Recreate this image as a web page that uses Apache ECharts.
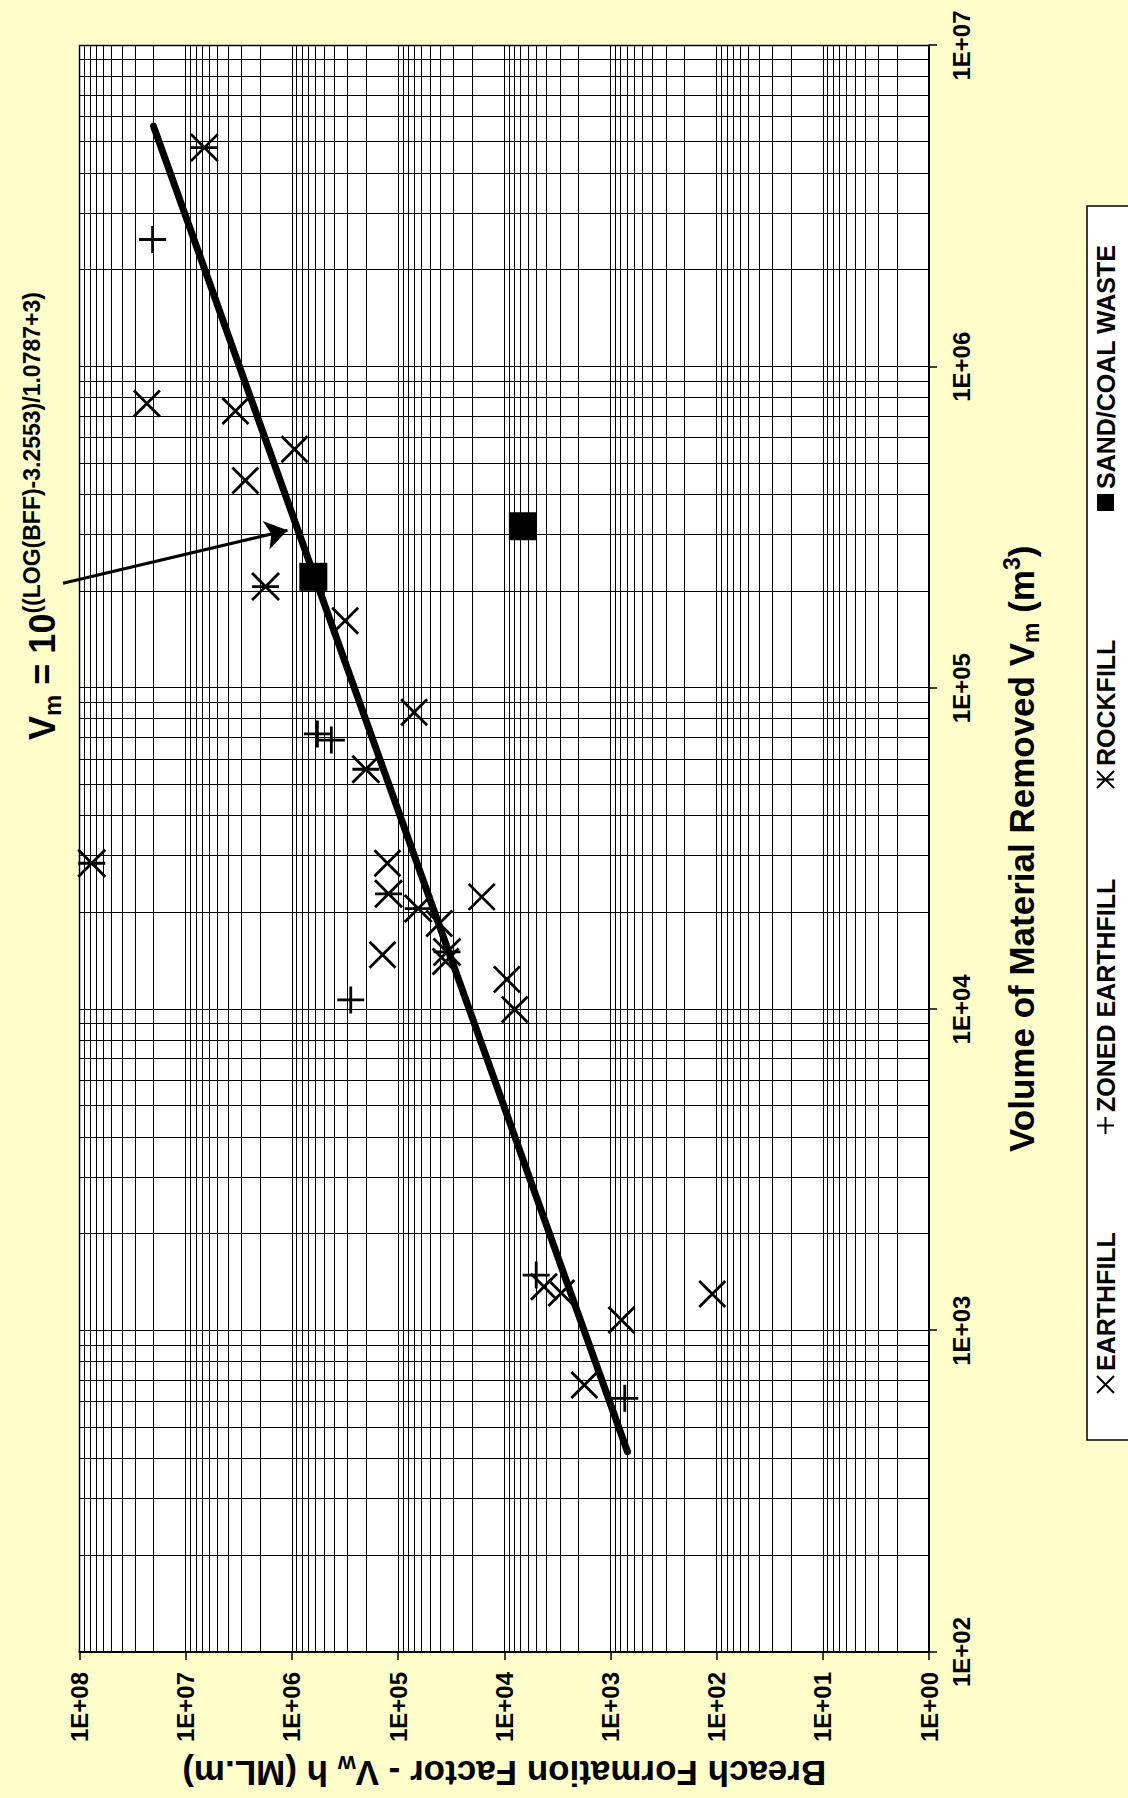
<!DOCTYPE html>
<html><head><meta charset="utf-8">
<script src="https://cdn.jsdelivr.net/npm/echarts@6/dist/echarts.min.js"></script>
<style>
html,body{margin:0;padding:0;width:1128px;height:1798px;overflow:hidden;background:#FFFFCC;}
#chart{position:absolute;left:0;top:0;width:1798px;height:1128px;transform-origin:0 0;transform:translateY(1798px) rotate(-90deg);}
</style></head><body><div id="chart"></div>
<script>
// Axis ticks and labels
const vmTicks = [1e2, 1e3, 1e4, 1e5, 1e6, 1e7];
const vmTickLabels = ['1E+02', '1E+03', '1E+04', '1E+05', '1E+06', '1E+07'];
const bffTicks = [1, 1e1, 1e2, 1e3, 1e4, 1e5, 1e6, 1e7, 1e8];
const bffTickLabels = ['1E+00', '1E+01', '1E+02', '1E+03', '1E+04', '1E+05', '1E+06', '1E+07', '1E+08'];
const minorMultipliers = [2, 3, 4, 5, 6, 7, 8, 9];

// Series values: [Vm (m3), BFF (ML.m)]
const earthfill = [
  [7.69e5, 2.32e7], [7.28e5, 3.40e6], [5.54e5, 9.44e5], [4.43e5, 2.74e6],
  [1.62e5, 3.15e5], [8.41e4, 7.06e4], [2.85e4, 1.26e5], [1.85e4, 4.09e4],
  [2.24e4, 1.63e4], [1.48e4, 1.40e5], [1.41e4, 3.57e4], [1.24e4, 9.45e3],
  [1.00e4, 7.98e3], [1.37e3, 4.23e3], [1.31e3, 2.90e3], [1.08e3, 787],
  [1.30e3, 110], [678, 1.76e3]
];
const zonedEarthfill = [
  [2.49e6, 2.05e7], [7.20e4, 5.75e5], [6.89e4, 4.25e5], [1.07e4, 2.79e5],
  [1.49e3, 5.00e3], [616, 733]
];
const rockfill = [
  [4.81e6, 6.67e6], [2.07e5, 1.77e6], [5.59e4, 2.01e5], [2.29e4, 1.23e5],
  [2.06e4, 6.46e4], [1.51e4, 3.46e4], [2.85e4, 7.67e7]
];
const sandCoalWaste = [
  [2.22e5, 6.28e5], [3.19e5, 6.68e3]
];
const fitLine = [[420, 691], [5.61e6, 2.01e7]];
const arrowCoords = [[2.12e5, 1.43e8], [3.10e5, 1.10e6]];

const FONT = "'Liberation Sans', Arial, sans-serif";
const crossPath = 'path://M0,0L10,10M10,0L0,10';
const plusPath = 'path://M5,0L5,10M0,5L10,5';
const starPath = 'path://M0,0L10,10M10,0L0,10M5,0L5,10';

function fmt(ticks, labels) {
  return function (v) {
    const i = ticks.findIndex(t => Math.abs(Math.log10(t) - Math.log10(v)) < 1e-6);
    return i >= 0 ? labels[i] : '';
  };
}

const minorLines = [];
vmTicks.slice(0, -1).forEach(d => minorMultipliers.forEach(m => minorLines.push({ xAxis: d * m })));
bffTicks.slice(0, -1).forEach(d => minorMultipliers.forEach(m => minorLines.push({ yAxis: d * m })));

const chart = echarts.init(document.getElementById('chart'), null, { renderer: 'svg', width: 1798, height: 1128 });

const lblStyle = { color: '#000', fontFamily: FONT, fontWeight: 'bold', fontSize: 24 };
const nameRich = {
  sub: { fontFamily: FONT, fontWeight: 'bold', fontSize: 23, verticalAlign: 'bottom', lineHeight: 23, color: '#000' },
  sup: { fontFamily: FONT, fontWeight: 'bold', fontSize: 23, verticalAlign: 'top', lineHeight: 23, color: '#000' }
};

function legendItem(name, icon, left, filled) {
  return {
    data: [{ name: name, icon: icon,
      itemStyle: filled ? { color: '#000', borderWidth: 0, opacity: 1 } : { color: '#000', borderColor: '#000', borderWidth: 2, opacity: 1 } }],
    left: left, top: 1093, orient: 'horizontal', padding: 0,
    itemWidth: 17, itemHeight: 17, selectedMode: false,
    textStyle: { color: '#000', fontFamily: FONT, fontWeight: 'bold', fontSize: 25 }
  };
}

const markerStyle = { color: '#000', borderColor: '#000', borderWidth: 2.8, opacity: 1 };

const option = {
  backgroundColor: '#FFFFCC',
  animation: false,
  grid: { left: 146, right: 45.5, top: 79.5, bottom: 199, show: true, backgroundColor: '#fff',
          borderColor: '#808080', borderWidth: 2, containLabel: false, outerBoundsMode: 'none' },
  xAxis: {
    type: 'log', logBase: 10, min: 1e2, max: 1e7, splitNumber: 5,
    axisLine: { show: true, lineStyle: { color: '#000', width: 2 } },
    axisTick: { show: true, inside: false, length: 8, lineStyle: { color: '#000', width: 1.5 } },
    axisLabel: Object.assign({ margin: 20, formatter: fmt(vmTicks, vmTickLabels) }, lblStyle),
    splitLine: { show: true, lineStyle: { color: '#000', width: 1 } },
    name: 'Volume of Material Removed V{sub|m} (m{sup|3})',
    nameLocation: 'middle', nameGap: 71,
    nameTextStyle: { color: '#000', fontFamily: FONT, fontWeight: 'bold', fontSize: 35, lineHeight: 42, rich: nameRich }
  },
  yAxis: {
    type: 'log', logBase: 10, min: 1, max: 1e8, splitNumber: 8,
    axisLine: { show: true, lineStyle: { color: '#000', width: 2 } },
    axisTick: { show: true, inside: false, length: 8, lineStyle: { color: '#000', width: 1.5 } },
    axisLabel: Object.assign({ margin: 20, formatter: fmt(bffTicks, bffTickLabels) }, lblStyle),
    splitLine: { show: true, lineStyle: { color: '#000', width: 1 } },
    name: 'Breach Formation Factor - V{sub|w} h (ML.m)',
    nameLocation: 'middle', nameGap: 90, nameRotate: 90,
    nameTextStyle: { color: '#000', fontFamily: FONT, fontWeight: 'bold', fontSize: 35, lineHeight: 42, rich: nameRich }
  },
  legend: [
    legendItem('EARTHFILL', crossPath, 404, false),
    legendItem('ZONED EARTHFILL', plusPath, 663, false),
    legendItem('ROCKFILL', starPath, 1009, false),
    legendItem('SAND/COAL WASTE', 'rect', 1287, true)
  ],
  graphic: [
    { type: 'rect', z: 0, silent: true, shape: { x: 358, y: 1087, width: 1234, height: 80 },
      style: { fill: '#fff', stroke: '#000', lineWidth: 1.5 } },
    { type: 'text', left: 1058, top: 20, silent: true,
      style: {
        text: '{v|V}{sb|m}{v| = 10}{sp|((LOG(BFF)-3.2553)/1.0787+3)}',
        fill: '#000',
        rich: {
          v: { fontFamily: FONT, fontWeight: 'bold', fontSize: 36, lineHeight: 44, fill: '#000' },
          sb: { fontFamily: FONT, fontWeight: 'bold', fontSize: 24, lineHeight: 24, verticalAlign: 'bottom', fill: '#000' },
          sp: { fontFamily: FONT, fontWeight: 'bold', fontSize: 23, lineHeight: 23, verticalAlign: 'top', fill: '#000' }
        }
      } }
  ],
  series: [
    { name: 'grid', type: 'scatter', data: [], z: 1, silent: true,
      markLine: { silent: true, symbol: ['none', 'none'], label: { show: false }, animation: false,
        lineStyle: { color: '#000', width: 1, type: 'solid' }, emphasis: { disabled: true }, data: minorLines } },
    { name: 'fit', type: 'line', data: fitLine, symbol: 'none', z: 3, silent: true,
      lineStyle: { color: '#000', width: 7, cap: 'round' } },
    { name: 'arrow', type: 'lines', coordinateSystem: 'cartesian2d', z: 3, silent: true, clip: false,
      symbol: ['none', 'arrow'], symbolSize: [0, 22],
      lineStyle: { color: '#000', width: 3, curveness: 0, opacity: 1 },
      data: [{ coords: arrowCoords }] },
    { name: 'EARTHFILL', type: 'scatter', data: earthfill, symbol: crossPath, symbolSize: 26, z: 4, silent: true,
      itemStyle: markerStyle },
    { name: 'ZONED EARTHFILL', type: 'scatter', data: zonedEarthfill, symbol: plusPath, symbolSize: 27, z: 4, silent: true,
      itemStyle: markerStyle },
    { name: 'ROCKFILL', type: 'scatter', data: rockfill, symbol: starPath, symbolSize: 27, z: 4, silent: true,
      itemStyle: markerStyle },
    { name: 'SAND/COAL WASTE', type: 'scatter', data: sandCoalWaste, symbol: 'rect', symbolSize: 28, z: 5, silent: true,
      itemStyle: { color: '#000', opacity: 1 } }
  ]
};
chart.setOption(option);
</script></body></html>
